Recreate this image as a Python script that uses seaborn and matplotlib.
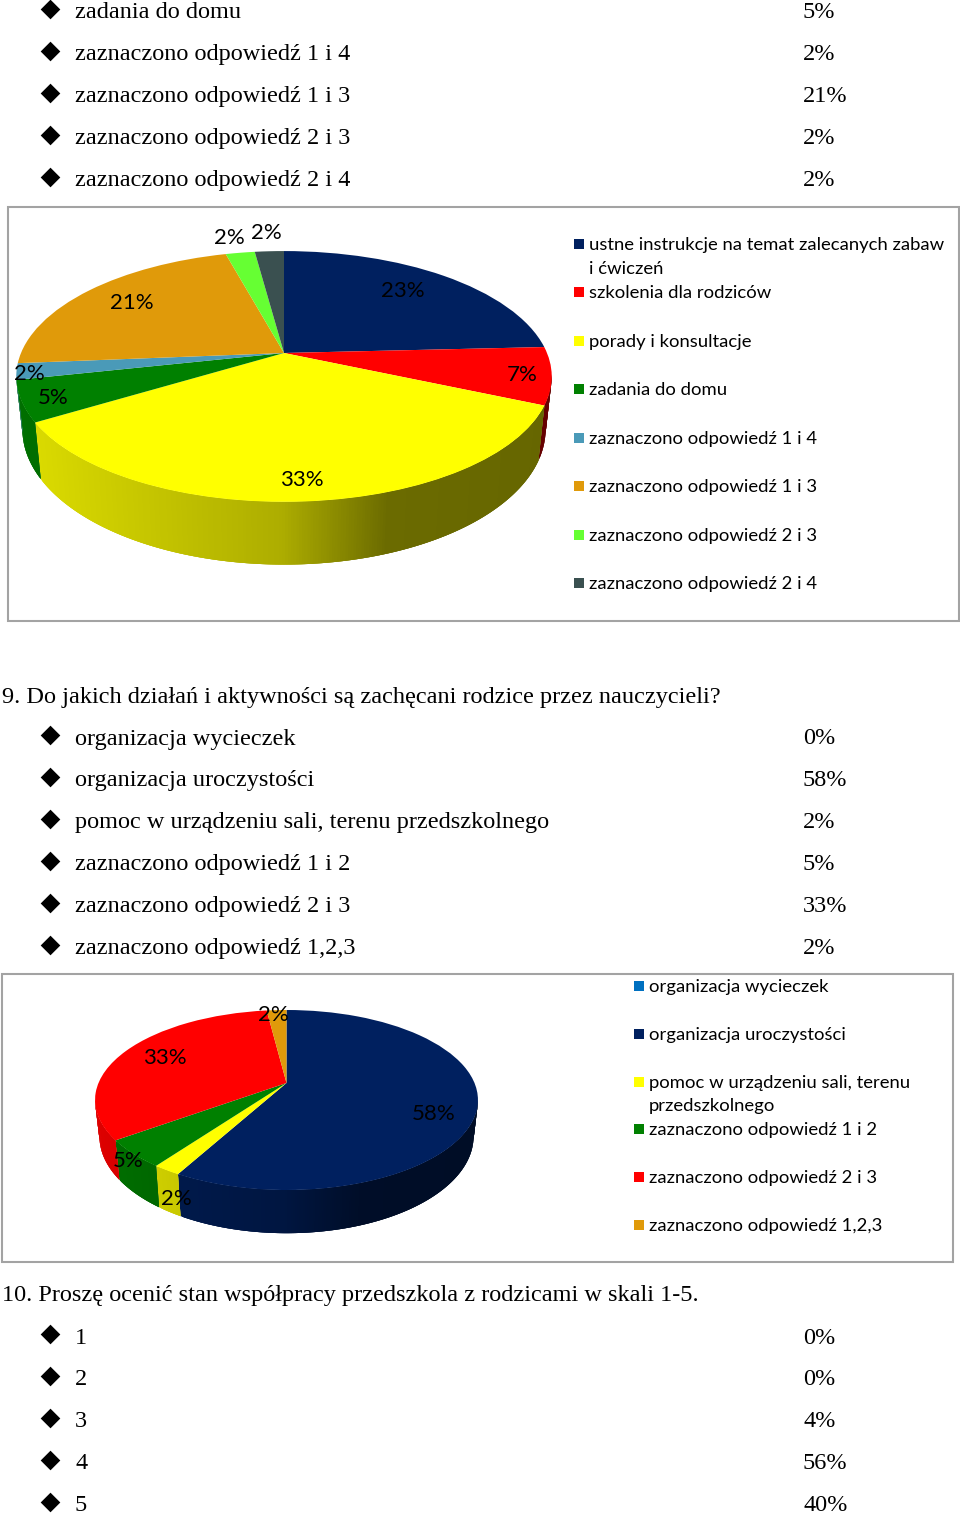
import numpy as np
import matplotlib
matplotlib.use("Agg")
import matplotlib.pyplot as plt
import matplotlib.transforms as mtransforms
from matplotlib.patches import Rectangle
import seaborn as sns

# question 8 (end of the list, the top of it is on the page before)
q8_rows = ["zadania do domu", "zaznaczono odpowiedź 1 i 4", "zaznaczono odpowiedź 1 i 3",
           "zaznaczono odpowiedź 2 i 3", "zaznaczono odpowiedź 2 i 4"]
q8_pct = [5, 2, 21, 2, 2]

pie1_names = ["ustne instrukcje na temat zalecanych zabaw\ni ćwiczeń", "szkolenia dla rodziców",
              "porady i konsultacje", "zadania do domu", "zaznaczono odpowiedź 1 i 4",
              "zaznaczono odpowiedź 1 i 3", "zaznaczono odpowiedź 2 i 3", "zaznaczono odpowiedź 2 i 4"]
pie1_values = [23, 7, 33, 5, 2, 21, 2, 2]
pie1_colors = ["#00205F", "#FF0000", "#FFFF00", "#008000", "#4A9AB8", "#E09A0A", "#66FF33", "#3A5050"]
pie1_label_xy = [(403, 290), (522, 374), (302, 479), (53, 397), (29, 373), (132, 302), (229, 237), (266, 232)]

q9_title = "9. Do jakich działań i aktywności są zachęcani rodzice przez nauczycieli?"
q9_rows = ["organizacja wycieczek", "organizacja uroczystości", "pomoc w urządzeniu sali, terenu przedszkolnego",
           "zaznaczono odpowiedź 1 i 2", "zaznaczono odpowiedź 2 i 3", "zaznaczono odpowiedź 1,2,3"]
q9_pct = [0, 58, 2, 5, 33, 2]

pie2_names = ["organizacja wycieczek", "organizacja uroczystości", "pomoc w urządzeniu sali, terenu\nprzedszkolnego",
              "zaznaczono odpowiedź 1 i 2", "zaznaczono odpowiedź 2 i 3", "zaznaczono odpowiedź 1,2,3"]
pie2_colors = ["#0070C0", "#00205F", "#FFFF00", "#008000", "#FF0000", "#E09A0A"]
pie2_label_xy = [None, (434, 1113), (176, 1198), (128, 1160), (165, 1057), (273, 1014)]

q10_title = "10. Proszę ocenić stan współpracy przedszkola z rodzicami w skali 1-5."
q10_rows = ["1", "2", "3", "4", "5"]
q10_pct = [0, 0, 4, 56, 40]

SERIF = "Liberation Serif"
SANS = "Lato"
DOC_SIZE = 17.45
LEG_SIZE = 13.3
LAB_SIZE = 16


class Tilt(mtransforms.Transform):
    # unit pie -> page pixels, with perspective so the near half looks bigger
    input_dims = 2
    output_dims = 2

    def __init__(self, cx, cy, a, b, k):
        super().__init__()
        self.cx, self.cy, self.a, self.b, self.k = cx, cy, a, b, k

    def transform_non_affine(self, values):
        values = np.asarray(values, dtype=float)
        w = 1 + self.k * values[:, 1]
        return np.column_stack([self.cx + self.a * values[:, 0] / w,
                                self.cy - self.b * values[:, 1] / w])


def shade(x, cx, half):
    u = (x - cx) / half
    return np.interp(u, [-1, 0, 0.4, 1], [0.87, 0.68, 0.42, 0.40])


def draw_pie(ax, values, colors, cx, cy, a, b, k, depth):
    tilt = Tilt(cx, cy, a, b, k)
    wedges, _ = ax.pie(values, colors=colors, startangle=90, counterclock=False)
    half = a * 1.018
    for w in wedges:
        base = np.array(w.get_facecolor()[:3])
        if w.theta2 - w.theta1 <= 0:
            continue
        # side wall, strips overlap a bit so no seams show between them
        for t0 in np.arange(w.theta1, w.theta2, 0.5):
            t1 = min(t0 + 1.5, w.theta2)
            if np.sin(np.radians(t0 + 0.25)) >= -k:
                continue
            rad = np.radians(np.linspace(t0, t1, 4))
            top = tilt.transform_non_affine(np.column_stack([np.cos(rad), np.sin(rad)]))
            ww = 1 + k * np.sin(rad)
            low_x = cx + (top[:, 0] - cx) * 0.977
            low_y = top[:, 1] + depth / ww
            c = base * shade(top[:, 0].mean(), cx, half)
            ax.fill(np.r_[top[:, 0], low_x[::-1]], np.r_[top[:, 1], low_y[::-1]],
                    color=c, lw=0, zorder=2)
    for w in wedges:
        w.set_transform(tilt + ax.transData)
        w.set_zorder(3)
        w.set_linewidth(0)


def draw_rows(ax, y0, rows, pct):
    for i, (name, p) in enumerate(zip(rows, pct)):
        y = y0 + i * 41.95
        ax.scatter([50], [y - 2], marker="D", s=100, color="black", lw=0, zorder=5)
        ax.text(75, y + 2, name, family=SERIF, size=DOC_SIZE, va="center", color="black")
        ax.text(803, y + 2, f"{p}%", family=SERIF, size=DOC_SIZE, va="center", color="black")


def draw_legend(ax, x, ys, names, colors):
    for y, name, c in zip(ys, names, colors):
        ax.scatter([x], [y], marker="s", s=56, color=c, lw=0, zorder=5)
        ax.text(x + 10.5, y - 7, name, family=SANS, size=LEG_SIZE, va="top", color="black", linespacing=1.58)


sns.set_theme(style="white")
fig = plt.figure(figsize=(9.6, 15.16), dpi=100)
ax = fig.add_axes([0, 0, 1, 1])

draw_pie(ax, pie1_values, pie1_colors, 284, 353, 263, 121, 0.187, 51)
draw_pie(ax, q9_pct, pie2_colors, 286.5, 1083, 188, 86.8, 0.189, 35)

ax.set_aspect("auto")
ax.set_xlim(0, 960)
ax.set_ylim(1516, 0)
ax.axis("off")

ax.add_patch(Rectangle((8, 207), 951, 414, fill=False, ec="#A3A3A3", lw=1.5, zorder=1))
ax.add_patch(Rectangle((2, 974), 951, 288, fill=False, ec="#A3A3A3", lw=1.5, zorder=1))

draw_rows(ax, 11, q8_rows, q8_pct)
ax.text(2, 698, q9_title, family=SERIF, size=DOC_SIZE, va="center", color="black")
draw_rows(ax, 737, q9_rows, q9_pct)
ax.text(2, 1296, q10_title, family=SERIF, size=DOC_SIZE, va="center", color="black")
draw_rows(ax, 1336, q10_rows, q10_pct)

leg1_y = [244 + i * 48.45 for i in range(len(pie1_names))]
draw_legend(ax, 578.5, leg1_y, pie1_names, pie1_colors)
leg2_y = [986 + i * 47.8 for i in range(len(pie2_names))]
draw_legend(ax, 638.5, leg2_y, pie2_names, pie2_colors)

for v, xy in zip(pie1_values, pie1_label_xy):
    ax.text(xy[0], xy[1] + 1, f"{v}%", family=SANS, size=LAB_SIZE, ha="center", va="center", color="black", zorder=6)
for v, xy in zip(q9_pct, pie2_label_xy):
    if xy is None:
        continue
    ax.text(xy[0], xy[1] + 1, f"{v}%", family=SANS, size=LAB_SIZE, ha="center", va="center", color="black", zorder=6)

fig.savefig("out.png", dpi=100)
